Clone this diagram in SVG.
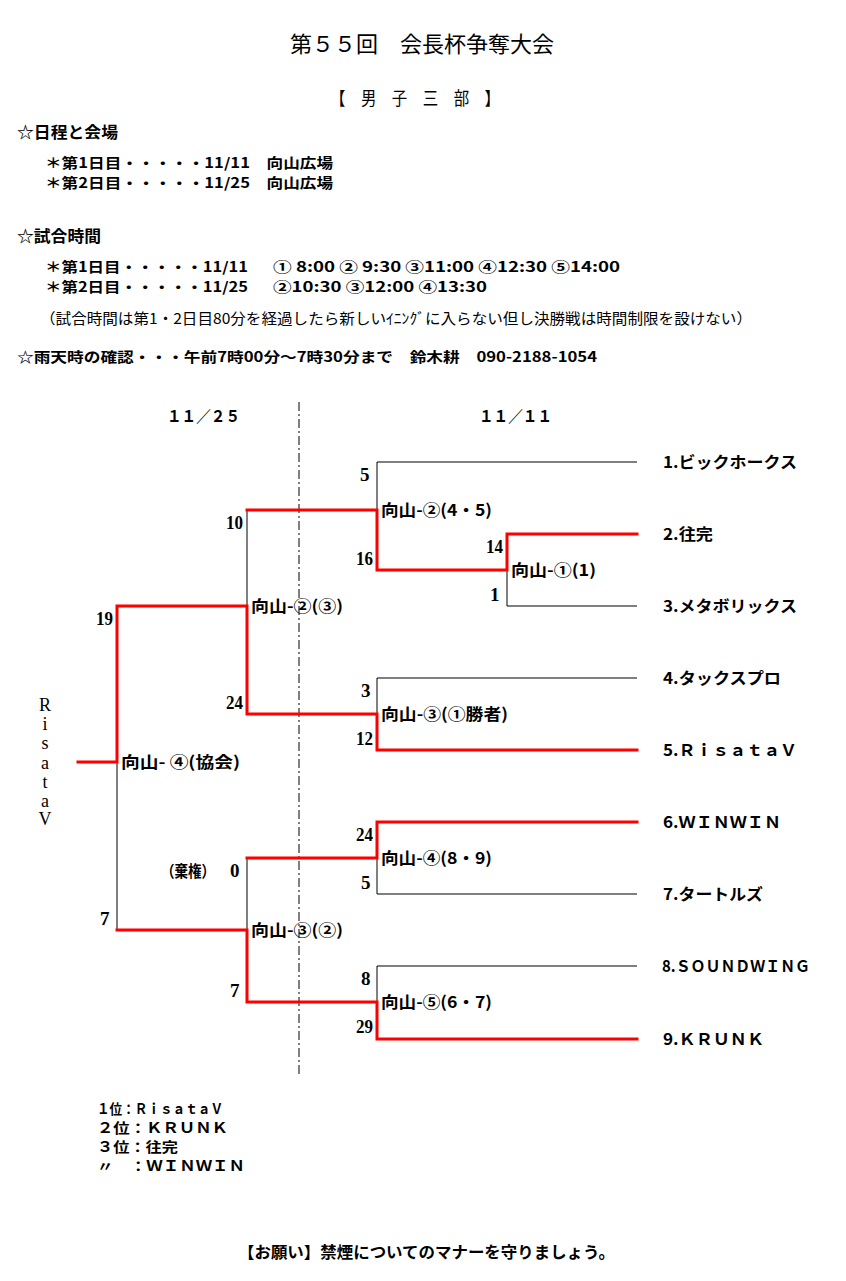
<svg xmlns="http://www.w3.org/2000/svg" width="846" height="1281" viewBox="0 0 846 1281">
<style>
.j{font-family:"Noto Sans CJK JP","Noto Sans CJK SC",sans-serif;font-size:16px;font-weight:bold;fill:#000}
.js{font-family:"Noto Sans CJK JP","Noto Sans CJK SC",sans-serif;font-size:14px;font-weight:bold;fill:#000}
.jn{font-family:"Noto Sans CJK JP","Noto Sans CJK SC",sans-serif;font-size:15px;font-weight:normal;fill:#000}
.ttl{font-family:"Noto Sans CJK JP","Noto Sans CJK SC",sans-serif;font-size:22px;font-weight:normal;fill:#000}
.sc{font-family:"Liberation Serif","Noto Sans CJK JP",serif;font-size:19px;font-weight:bold;fill:#000}
.v{font-family:"Liberation Serif","Noto Sans CJK JP",serif;font-size:18px;font-weight:normal;fill:#000;text-anchor:middle}
.k{fill:none;stroke:#000;stroke-width:1}
.r{fill:none;stroke:#FF0000;stroke-width:3;stroke-linejoin:miter;stroke-linecap:square}
.d{fill:none;stroke:#000;stroke-width:1;stroke-dasharray:9 3 2 3}
</style>
<rect width="846" height="1281" fill="#fff"/>

<g id="header">
<text class="ttl" x="290" y="52" textLength="264" lengthAdjust="spacingAndGlyphs">第５５回　会長杯争奪大会</text>
<text class="ttl" x="330" y="105" style="font-size:18px" textLength="170" lengthAdjust="spacingAndGlyphs">【　男　子　三　部　】</text>
<text class="j" x="17" y="138" textLength="101" lengthAdjust="spacingAndGlyphs">☆日程と会場</text>
<text class="js" x="45" y="168" textLength="288" lengthAdjust="spacingAndGlyphs">＊第1日目・・・・・11/11　向山広場</text>
<text class="js" x="45" y="188" textLength="288" lengthAdjust="spacingAndGlyphs">＊第2日目・・・・・11/25　向山広場</text>
<text class="j" x="17" y="242" textLength="84" lengthAdjust="spacingAndGlyphs">☆試合時間</text>
<text class="js" x="45" y="272" textLength="203" lengthAdjust="spacingAndGlyphs">＊第1日目・・・・・11/11</text>
<text class="js" x="273" y="272" textLength="347" lengthAdjust="spacingAndGlyphs">① 8:00 ② 9:30 ③11:00 ④12:30 ⑤14:00</text>
<text class="js" x="45" y="292" textLength="203" lengthAdjust="spacingAndGlyphs">＊第2日目・・・・・11/25</text>
<text class="js" x="273" y="292" textLength="214" lengthAdjust="spacingAndGlyphs">②10:30 ③12:00 ④13:30</text>
<text class="jn" x="40" y="324" textLength="712" lengthAdjust="spacingAndGlyphs">（試合時間は第1・2日目80分を経過したら新しいｲﾆﾝｸﾞに入らない但し決勝戦は時間制限を設けない）</text>
<text class="js" x="17" y="362" textLength="580" lengthAdjust="spacingAndGlyphs">☆雨天時の確認・・・午前7時00分～7時30分まで　鈴木耕　090-2188-1054</text>
<text class="j" x="167" y="422" textLength="73" lengthAdjust="spacingAndGlyphs">１１／２５</text>
<text class="j" x="479" y="422" textLength="73" lengthAdjust="spacingAndGlyphs">１１／１１</text>
</g>

<g id="connectors">
<line class="d" x1="299" y1="402" x2="299" y2="1077"/>
<path class="k" d="M377,510 V462 H637"/>
<path class="k" d="M507,570 V606 H637"/>
<path class="k" d="M377,714 V678 H637"/>
<path class="k" d="M247,510 V606"/>
<path class="k" d="M117,762 V930"/>
<path class="k" d="M377,858 V894 H637"/>
<path class="k" d="M377,1002 V966 H637"/>
<path class="k" d="M247,858 V930"/>
<path class="r" d="M247,510 H377 V570 H507 V534 H637"/>
<path class="r" d="M78,762 H117 V606 H247 V714 H377 V750 H637"/>
<path class="r" d="M117,930 H247 V1002 H377 V1039 H637"/>
<path class="r" d="M247,858 H377 V822 H637"/>
</g>

<g id="scores">
<text class="sc" x="360" y="481">5</text>
<text class="sc" x="226" y="529" textLength="17" lengthAdjust="spacingAndGlyphs">10</text>
<text class="sc" x="356" y="565" textLength="17" lengthAdjust="spacingAndGlyphs">16</text>
<text class="sc" x="96" y="625" textLength="17" lengthAdjust="spacingAndGlyphs">19</text>
<text class="sc" x="226" y="709" textLength="17" lengthAdjust="spacingAndGlyphs">24</text>
<text class="sc" x="361" y="697">3</text>
<text class="sc" x="356" y="745" textLength="17" lengthAdjust="spacingAndGlyphs">12</text>
<text class="sc" x="486" y="553" textLength="17" lengthAdjust="spacingAndGlyphs">14</text>
<text class="sc" x="490" y="601">1</text>
<text class="sc" x="356" y="841" textLength="17" lengthAdjust="spacingAndGlyphs">24</text>
<text class="sc" x="361" y="889">5</text>
<text class="j" x="161" y="877" textLength="54" lengthAdjust="spacingAndGlyphs">（棄権）</text>
<text class="sc" x="230" y="877">0</text>
<text class="sc" x="100" y="925">7</text>
<text class="sc" x="230" y="997">7</text>
<text class="sc" x="361" y="985">8</text>
<text class="sc" x="356" y="1033" textLength="17" lengthAdjust="spacingAndGlyphs">29</text>
</g>

<g id="match-m2-45"><text class="j" x="381" y="516" textLength="111" lengthAdjust="spacingAndGlyphs">向山-②(4・5)</text></g>
<g id="match-m1-1"><text class="j" x="511" y="576" textLength="85" lengthAdjust="spacingAndGlyphs">向山-①(1)</text></g>
<g id="match-m2-3"><text class="j" x="251" y="612" textLength="92" lengthAdjust="spacingAndGlyphs">向山-②(③)</text></g>
<g id="match-m3-1w"><text class="j" x="381" y="720" textLength="127" lengthAdjust="spacingAndGlyphs">向山-③(①勝者)</text></g>
<g id="match-final"><text class="j" x="121" y="768" textLength="119" lengthAdjust="spacingAndGlyphs">向山- ④(協会)</text></g>
<g id="match-m4-89"><text class="j" x="381" y="864" textLength="111" lengthAdjust="spacingAndGlyphs">向山-④(8・9)</text></g>
<g id="match-m3-2"><text class="j" x="251" y="936" textLength="92" lengthAdjust="spacingAndGlyphs">向山-③(②)</text></g>
<g id="match-m5-67"><text class="j" x="381" y="1008" textLength="111" lengthAdjust="spacingAndGlyphs">向山-⑤(6・7)</text></g>

<g id="champion">
<text class="v" x="45" y="711">R</text>
<text class="v" x="45" y="730">i</text>
<text class="v" x="45" y="749">s</text>
<text class="v" x="45" y="769">a</text>
<text class="v" x="45" y="788">t</text>
<text class="v" x="45" y="807">a</text>
<text class="v" x="45" y="825">V</text>
</g>

<g id="team1"><text class="j" x="663" y="468" textLength="134" lengthAdjust="spacingAndGlyphs">1.ビックホークス</text></g>
<g id="team2"><text class="j" x="663" y="540" textLength="50" lengthAdjust="spacingAndGlyphs">2.往完</text></g>
<g id="team3"><text class="j" x="663" y="612" textLength="134" lengthAdjust="spacingAndGlyphs">3.メタボリックス</text></g>
<g id="team4"><text class="j" x="663" y="684" textLength="118" lengthAdjust="spacingAndGlyphs">4.タックスプロ</text></g>
<g id="team5"><text class="j" x="663" y="756" textLength="134" lengthAdjust="spacingAndGlyphs">5.ＲｉｓａｔａＶ</text></g>
<g id="team6"><text class="j" x="663" y="828" textLength="118" lengthAdjust="spacingAndGlyphs">6.ＷＩＮＷＩＮ</text></g>
<g id="team7"><text class="j" x="663" y="900" textLength="100" lengthAdjust="spacingAndGlyphs">7.タートルズ</text></g>
<g id="team8"><text class="j" x="662" y="972" textLength="148" lengthAdjust="spacingAndGlyphs">8.ＳＯＵＮＤＷＩＮＧ</text></g>
<g id="team9"><text class="j" x="663" y="1045" textLength="101" lengthAdjust="spacingAndGlyphs">9.ＫＲＵＮＫ</text></g>

<g id="results">
<text class="js" x="97" y="1114" textLength="126" lengthAdjust="spacingAndGlyphs">１位：ＲｉｓａｔａＶ</text>
<text class="js" x="97" y="1133" textLength="131" lengthAdjust="spacingAndGlyphs">２位：ＫＲＵＮＫ</text>
<text class="js" x="97" y="1152" textLength="81" lengthAdjust="spacingAndGlyphs">３位：往完</text>
<text class="js" x="97" y="1171" textLength="148" lengthAdjust="spacingAndGlyphs">〃　：ＷＩＮＷＩＮ</text>
</g>

<g id="footer">
<text class="j" x="238" y="1258" textLength="377" lengthAdjust="spacingAndGlyphs">【お願い】禁煙についてのマナーを守りましょう。</text>
</g>
</svg>
